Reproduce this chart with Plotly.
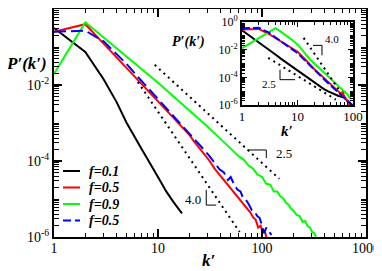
import numpy as np
import plotly.graph_objects as go

FONT = "Liberation Serif"

# ---------------- main panel data (k', log10 P'(k')) ----------------
k_f01 = [1, 2, 3, 4, 5, 6, 7, 8, 9, 10, 11, 12, 13, 14, 15, 16, 17]
logp_f01 = [-0.5, -1.13, -1.85, -2.45, -3.0, -3.4, -3.7, -3.97, -4.2, -4.42, -4.62, -4.8, -4.95, -5.07, -5.18, -5.28, -5.38]

k_f05 = [1, 2, 3, 4, 5, 6, 7, 8, 9, 10, 12, 14, 16, 18, 20, 22, 25, 28, 31, 35, 39, 43, 47,
         52, 57, 62, 67, 72, 77, 82, 87, 92, 97, 102, 106, 110]
logp_f05 = [-0.6, -0.4, -0.91, -1.28, -1.56, -1.79, -1.98, -2.15, -2.3, -2.43, -2.66, -2.86, -3.03, -3.18,
            -3.31, -3.47, -3.66, -3.83, -3.98, -4.2, -4.36, -4.52, -4.64,
            -4.8, -4.92, -5.05, -5.16, -5.26, -5.35, -5.48, -5.55, -5.75, -5.7, -5.88, -5.82, -6.0]

k_f09 = [1, 2, 3, 4, 5, 6, 7, 8, 9, 10, 12, 14, 16, 18, 20, 23, 26, 30, 34, 38, 43, 48, 54, 60,
         67, 74, 82, 90, 100, 110, 120, 130, 140, 150, 160, 170, 180, 190, 200,
         215, 230, 245, 260, 275, 290, 305, 320, 330]
logp_f09 = [-1.71, -0.35, -0.75, -1.03, -1.24, -1.42, -1.58, -1.71, -1.83, -1.94, -2.13, -2.29, -2.43, -2.55,
            -2.66, -2.81, -2.94, -3.1, -3.24, -3.36, -3.5, -3.63, -3.76, -3.88,
            -3.97, -4.12, -4.2, -4.35, -4.42, -4.6, -4.62, -4.8, -4.8, -4.93, -4.98, -5.1, -5.15, -5.25, -5.3,
            -5.42, -5.45, -5.6, -5.58, -5.72, -5.75, -5.88, -5.9, -6.0]

k_f05b = [1, 2, 3, 4, 5, 6, 7, 8, 9, 10, 12, 14, 16, 18, 20, 22, 25, 28, 31, 35, 39, 43, 47,
          50, 54, 58, 62, 66, 70, 75, 80, 85, 90, 95, 100, 105, 110, 115, 120, 123]
logp_f05b = [-0.6, -0.57, -0.85, -1.18, -1.45, -1.7, -1.9, -2.08, -2.22, -2.36, -2.6, -2.8, -2.98, -3.14,
             -3.27, -3.4, -3.55, -3.72, -3.86, -4.05, -4.22, -4.3, -4.5,
             -4.42, -4.62, -4.75, -4.8, -4.98, -5.02, -5.15, -5.3, -5.33, -5.45, -5.5, -5.72, -5.9, -5.75,
             -5.85, -5.9, -5.95]

# ---------------- inset data ----------------
ki_f01 = [1, 2, 3, 4, 5, 6, 8, 10, 13, 16, 20, 25, 30, 35, 40, 48, 55, 62, 68, 75, 82, 90, 98]
logpi_f01 = [-0.6, -1.45, -1.98, -2.35, -2.65, -2.88, -3.22, -3.5, -3.85, -4.1, -4.4, -4.65, -4.85, -5.0,
             -5.12, -5.28, -5.35, -5.4, -5.45, -5.6, -5.8, -5.95, -6.1]

ki_f05 = [1, 2, 3, 4, 5, 6, 8, 10, 13, 16, 20, 25, 32, 40, 50, 58, 63, 66, 68, 72, 78, 85, 90]
logpi_f05 = [-0.54, -0.5, -0.85, -1.15, -1.4, -1.6, -1.92, -2.15, -2.6, -3.0, -3.4, -3.75, -4.15, -4.5,
             -4.85, -5.1, -5.25, -4.95, -5.3, -5.45, -5.7, -5.9, -6.1]

ki_f09 = [1, 4, 5, 6, 8, 10, 13, 17, 22, 28, 35, 43, 52, 62, 70, 80, 86, 92]
logpi_f09 = [-1.89, -0.45, -0.7, -0.92, -1.3, -1.62, -2.2, -2.73, -3.15, -3.55, -3.92, -4.25, -4.53,
             -4.85, -5.05, -5.25, -5.45, -5.6]

ki_f05b = [1, 2, 3, 4, 5, 6, 8, 10, 13, 16, 20, 25, 32, 40, 50, 60, 70, 80, 90, 100]
logpi_f05b = [-0.45, -0.42, -0.75, -1.12, -1.38, -1.62, -1.98, -2.25, -2.7, -3.08, -3.45, -3.82, -4.25,
              -4.6, -4.92, -5.2, -5.45, -5.7, -5.9, -6.05]

legend_labels = ["f=0.1", "f=0.5", "f=0.9", "f=0.5"]
series_colors = ["#000000", "#ff0000", "#00ff00", "#0000ff"]
series_dash = ["solid", "solid", "solid", "12px,5px"]

# guide lines: end points (k', log10 P')
guide_main_40_k = [6.4, 61.0]
guide_main_40_lp = [-1.92, -5.87]
guide_main_25_k = [9.3, 147.0]
guide_main_25_lp = [-1.47, -4.47]
guide_in_40_k = [12.9, 60.5]
guide_in_40_lp = [-1.15, -5.11]
guide_in_25_k = [2.97, 49.0]
guide_in_25_lp = [-2.59, -5.61]

# slope brackets (k', log10 P')
br_main_25_k = [72.4, 110.0, 110.0]
br_main_25_lp = [-3.71, -3.71, -3.92]
br_main_40_k = [29.1, 29.1, 36.3]
br_main_40_lp = [-4.76, -5.16, -5.16]
br_in_25_k = [4.84, 4.84, 9.02]
br_in_25_lp = [-3.45, -4.17, -4.17]
br_in_40_k = [19.0, 27.6, 27.6]
br_in_40_lp = [-1.69, -1.69, -2.41]

main_x_ticks = [1, 10, 100, 1000]
inset_x_ticks = [1, 10, 100]
y_ticks = [1e-6, 1e-4, 1e-2, 1]
y_ticktext = ["10<sup>-6</sup>", "10<sup>-4</sup>", "10<sup>-2</sup>", "10<sup>0</sup>"]


def P(lp):
    return np.power(10.0, np.asarray(lp, dtype=float))


fig = go.Figure()

main_sets = [(k_f01, logp_f01), (k_f05, logp_f05), (k_f09, logp_f09), (k_f05b, logp_f05b)]
inset_sets = [(ki_f01, logpi_f01), (ki_f05, logpi_f05), (ki_f09, logpi_f09), (ki_f05b, logpi_f05b)]

for (k, lp), c, d, name in zip(main_sets, series_colors, series_dash, legend_labels):
    fig.add_trace(go.Scatter(x=k, y=P(lp), mode="lines", name=name,
                             line=dict(color=c, width=2, dash=d), showlegend=False,
                             xaxis="x", yaxis="y"))

for gk, glp in [(guide_main_40_k, guide_main_40_lp), (guide_main_25_k, guide_main_25_lp)]:
    fig.add_trace(go.Scatter(x=gk, y=P(glp), mode="lines", showlegend=False,
                             line=dict(color="black", width=2, dash="2px,4px"), xaxis="x", yaxis="y"))
for bk, blp in [(br_main_25_k, br_main_25_lp), (br_main_40_k, br_main_40_lp)]:
    fig.add_trace(go.Scatter(x=bk, y=P(blp), mode="lines", showlegend=False,
                             line=dict(color="black", width=1), xaxis="x", yaxis="y"))

for (k, lp), c, d in zip(inset_sets, series_colors, series_dash):
    fig.add_trace(go.Scatter(x=k, y=P(lp), mode="lines", showlegend=False,
                             line=dict(color=c, width=2, dash=("8px,3px" if d != "solid" else d)),
                             xaxis="x2", yaxis="y2"))
for gk, glp in [(guide_in_40_k, guide_in_40_lp), (guide_in_25_k, guide_in_25_lp)]:
    fig.add_trace(go.Scatter(x=gk, y=P(glp), mode="lines", showlegend=False,
                             line=dict(color="black", width=2, dash="2px,4px"), xaxis="x2", yaxis="y2"))
for bk, blp in [(br_in_25_k, br_in_25_lp), (br_in_40_k, br_in_40_lp)]:
    fig.add_trace(go.Scatter(x=bk, y=P(blp), mode="lines", showlegend=False,
                             line=dict(color="black", width=1), xaxis="x2", yaxis="y2"))

# The page body has an 8px default margin, so the figure starts at (8, 8) in the window.
OFF = 8
WIN_W, WIN_H = 382, 271
PLOT_L, PLOT_R, PLOT_T, PLOT_B = 54, 366, 9, 237      # plot-area edges in window pixels
W, H = WIN_W - OFF, WIN_H - OFF
ML, MR, MT, MB = PLOT_L - OFF, W - (PLOT_R - OFF), PLOT_T - OFF, H - (PLOT_B - OFF)
PW, PH = PLOT_R - PLOT_L, PLOT_B - PLOT_T


def px(x):
    return (x - PLOT_L) / PW


def py(y):
    return (PLOT_B - y) / PH


def minor_vals(n0, n1, with_odd_decades=False):
    vals = [d * 10.0 ** n for n in range(n0, n1) for d in range(2, 10)]
    if with_odd_decades:
        vals += [10.0 ** n for n in range(n0, n1) if n % 2 != 0]
    return vals


axis_common = dict(type="log", showline=True, linecolor="black", mirror="allticks",
                   ticks="inside", tickcolor="black", showgrid=False, zeroline=False)

fig.update_layout(
    width=W, height=H, autosize=False,
    margin=dict(l=ML, r=MR, t=MT, b=MB, pad=0, autoexpand=False),
    paper_bgcolor="white", plot_bgcolor="white",
    font=dict(family=FONT, color="black"),
    xaxis=dict(axis_common, domain=[0, 1], range=[0, 3], linewidth=2, ticklen=8, tickwidth=1.5,
               tickmode="array", tickvals=main_x_ticks, ticktext=[str(v) for v in main_x_ticks],
               tickfont=dict(family=FONT, size=14), ticklabelstandoff=-3,
               minor=dict(tickmode="array", tickvals=minor_vals(0, 3), ticks="inside", ticklen=4,
                          tickcolor="black", tickwidth=1),
               anchor="y"),
    yaxis=dict(axis_common, domain=[0, 1], range=[-6, 0], linewidth=2, ticklen=8, tickwidth=1.5,
               tickmode="array", tickvals=y_ticks, ticktext=y_ticktext,
               tickfont=dict(family=FONT, size=14),
               minor=dict(tickmode="array", tickvals=minor_vals(-6, 0, True), ticks="inside", ticklen=5,
                          tickcolor="black", tickwidth=1),
               anchor="x"),
    xaxis2=dict(axis_common, domain=[px(242), px(353)], range=[0, 2], linewidth=2, ticklen=5,
                tickwidth=1, tickmode="array", tickvals=inset_x_ticks,
                ticktext=[str(v) for v in inset_x_ticks], tickfont=dict(family=FONT, size=13),
                ticklabelstandoff=-2,
                minor=dict(tickmode="array", tickvals=minor_vals(0, 2), ticks="inside", ticklen=3,
                           tickcolor="black", tickwidth=1),
                anchor="y2"),
    yaxis2=dict(axis_common, domain=[py(105), py(22)], range=[-6, 0], linewidth=2, ticklen=5,
                tickwidth=1, tickmode="array", tickvals=y_ticks, ticktext=y_ticktext,
                tickfont=dict(family=FONT, size=12),
                minor=dict(tickmode="array", tickvals=minor_vals(-6, 0, True), ticks="inside", ticklen=3,
                           tickcolor="black", tickwidth=1),
                anchor="x2"),
)

ann = []
# axis titles
ann.append(dict(text="<b><i>P′(k′)</i></b>", xref="paper", yref="paper", x=px(26), y=py(64),
                xanchor="center", yanchor="middle", showarrow=False, font=dict(family=FONT, size=17)))
ann.append(dict(text="<b><i>k′</i></b>", xref="paper", yref="paper", x=px(208), y=py(261),
                xanchor="center", yanchor="middle", showarrow=False, font=dict(family=FONT, size=17)))
ann.append(dict(text="<b><i>P′(k′)</i></b>", xref="paper", yref="paper", x=px(188), y=py(42),
                xanchor="center", yanchor="middle", showarrow=False, font=dict(family=FONT, size=14)))
ann.append(dict(text="<b><i>k′</i></b>", xref="paper", yref="paper", x=px(287), y=py(131),
                xanchor="center", yanchor="middle", showarrow=False, font=dict(family=FONT, size=15)))
# slope labels
ann.append(dict(text="2.5", xref="x", yref="y", x=np.log10(131.5), y=-3.79, xanchor="left",
                yanchor="middle", showarrow=False, font=dict(family=FONT, size=13)))
ann.append(dict(text="4.0", xref="x", yref="y", x=np.log10(26.8), y=-5.0, xanchor="right",
                yanchor="middle", showarrow=False, font=dict(family=FONT, size=13)))
ann.append(dict(text="2.5", xref="x2", yref="y2", x=0.649, y=-4.46, xanchor="right",
                yanchor="middle", showarrow=False, font=dict(family=FONT, size=11)))
ann.append(dict(text="4.0", xref="x2", yref="y2", x=1.459, y=-1.22, xanchor="left",
                yanchor="middle", showarrow=False, font=dict(family=FONT, size=11)))

# manual legend
shapes = []
legend_rows = [171, 187.5, 204, 220.5]
for lab, c, d, ry in zip(legend_labels, series_colors, series_dash, legend_rows):
    shapes.append(dict(type="line", xref="paper", yref="paper", x0=px(63), x1=px(80), y0=py(ry), y1=py(ry),
                       line=dict(color=c, width=2, dash=("8px,4px" if d != "solid" else "solid"))))
    ann.append(dict(text="<b><i>" + lab + "</i></b>", xref="paper", yref="paper", x=px(87), y=py(ry),
                    xanchor="left", yanchor="middle", showarrow=False, font=dict(family=FONT, size=14)))

fig.update_layout(annotations=ann, shapes=shapes)
fig.write_html("out.html")
